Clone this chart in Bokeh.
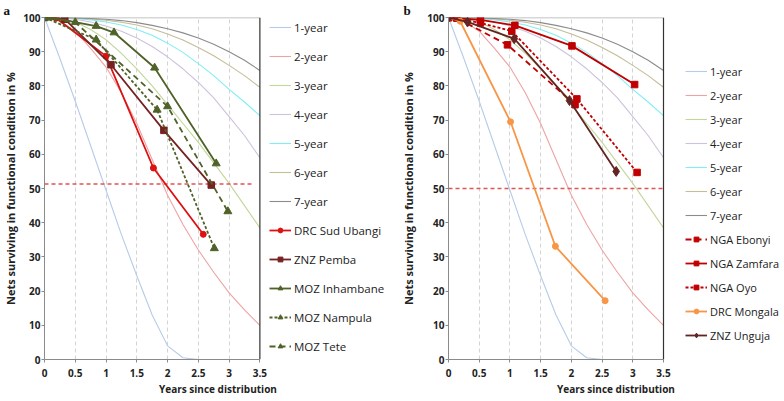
from bokeh.plotting import figure
from bokeh.models import (Legend, LegendItem, FixedTicker, CustomJSTickFormatter,
                          Span, Range1d)
from bokeh.layouts import row
from bokeh.embed import file_html
from bokeh.resources import INLINE

# ---------------- data ----------------
model_t = [0, 0.25, 0.5, 0.75, 1.0, 1.25, 1.5, 1.75, 2.0, 2.25, 2.5, 2.75, 3.0, 3.25, 3.5]
year1 = [100, 88, 75.5, 62.5, 49.5, 36.5, 24.5, 13, 4, 0.5, 0, 0, 0, 0, 0]
year2 = [100, 99, 96, 91, 85.5, 78, 69, 58.5, 48, 39.5, 32, 25.5, 19.5, 14.5, 10]
year3 = [100, 99.7, 98.7, 96.5, 93.5, 89.5, 85, 80, 74.5, 69, 63.5, 57.5, 51.5, 45, 38.5]
year4 = [100, 99.9, 99.5, 98.7, 97.5, 96, 94, 91.5, 88.5, 85, 81, 76.5, 71, 65.5, 59]
year5 = [100, 100, 99.7, 99.3, 98.7, 97.8, 96.5, 94.8, 92.5, 89.8, 86.5, 83, 79, 75.3, 71.3]
year6 = [100, 100, 99.8, 99.6, 99.2, 98.6, 97.8, 96.7, 95.2, 93.4, 91.2, 88.8, 86, 83, 79.6]
year7 = [100, 100, 99.9, 99.7, 99.5, 99.1, 98.5, 97.7, 96.7, 95.5, 94, 92.2, 90, 87.5, 84.5]
model_names = ["1-year", "2-year", "3-year", "4-year", "5-year", "6-year", "7-year"]

# panel a
drc_su_t = [0, 0.19, 1.0, 1.77, 2.58]
drc_su_v = [100, 99.8, 88.7, 56.0, 36.6]
pemba_t = [0, 0.33, 1.08, 1.94, 2.71]
pemba_v = [100, 99.5, 86.2, 67.0, 51.0]
inh_t = [0, 0.1, 0.84, 1.13, 1.79, 2.79]
inh_v = [100, 100, 97.5, 95.6, 85.3, 57.3]
nam_t = [0, 0.84, 1.83, 2.76]
nam_v = [100, 93.5, 73.0, 32.5]
tete_t = [0, 0.5, 2.0, 2.98]
tete_v = [100, 98.6, 74.0, 43.3]
ref_a_x = [0, 3.37]
ref_a_y = [51.3, 51.3]

# panel b
ebonyi_t = [0, 0.135, 0.96, 2.06]
ebonyi_v = [100, 99.8, 92.0, 74.5]
zamfara_t = [0, 0.52, 1.08, 2.01, 3.03]
zamfara_v = [100, 99.3, 97.7, 91.7, 80.4]
oyo_t = [0, 0.52, 1.03, 2.09, 3.07]
oyo_v = [100, 98.4, 96.0, 76.2, 54.7]
mongala_t = [0, 0.19, 1.01, 1.74, 2.55]
mongala_v = [100, 98.9, 69.5, 33.1, 17.2]
unguja_t = [0, 0.31, 1.07, 1.97, 2.73]
unguja_v = [100, 98.7, 93.8, 75.7, 55.0]
ref_b_x = [0, 3.5]
ref_b_y = [50, 50]

x_ticks = [0, 0.5, 1, 1.5, 2, 2.5, 3, 3.5]
y_ticks = [0, 10, 20, 30, 40, 50, 60, 70, 80, 90, 100]

model_colors = ["#b7cbe8", "#eea3a3", "#c3d69b", "#cdc2dc", "#80eef4", "#c4bd97", "#8c8c8c"]
FONT = "Open Sans"


def base_fig(width, height, bl, bt, bb, br, plot_px, panel_letter, letter_offset, ylab_standoff):
    frame_w = width - bl - br
    x_end = x_ticks[-1] * frame_w / plot_px  # extra room on the right for the legend
    p = figure(width=width, height=height, output_backend="svg", toolbar_location=None,
               x_range=Range1d(x_ticks[0], x_end), y_range=Range1d(y_ticks[0], y_ticks[-1]),
               min_border_left=bl, min_border_top=bt, min_border_bottom=bb, min_border_right=br)
    p.background_fill_color = "white"
    p.border_fill_color = "white"
    p.outline_line_color = None
    p.ygrid.visible = False
    p.xgrid.ticker = FixedTicker(ticks=x_ticks[1:-1])
    p.xgrid.grid_line_color = "#d4d4d4"
    p.xgrid.grid_line_dash = "4 3"
    p.xaxis.ticker = FixedTicker(ticks=x_ticks)
    p.xaxis.bounds = (x_ticks[0], x_ticks[-1])
    p.yaxis.ticker = FixedTicker(ticks=y_ticks)
    p.xaxis.formatter = CustomJSTickFormatter(code="return String(tick);")
    p.yaxis.formatter = CustomJSTickFormatter(code="return String(tick);")
    for ax in (p.xaxis[0], p.yaxis[0]):
        ax.axis_line_color = "#8a8a8a"
        ax.major_tick_line_color = "#8a8a8a"
        ax.major_tick_out = 3
        ax.major_tick_in = 0
        ax.minor_tick_out = 0
        ax.minor_tick_in = 0
        ax.major_label_text_font = FONT
        ax.major_label_text_font_size = "10px"
        ax.major_label_text_font_style = "bold"
        ax.major_label_text_color = "#222222"
        ax.axis_label_text_font = FONT
        ax.axis_label_text_font_style = "bold"
        ax.axis_label_text_color = "#222222"
    p.xaxis.major_label_standoff = 6
    p.xaxis.axis_label_standoff = 2
    p.xaxis.axis_label_text_font_size = "10px"
    p.yaxis.major_label_standoff = 1
    p.yaxis.axis_label_standoff = ylab_standoff
    p.yaxis.axis_label_text_font_size = "11px"
    p.xaxis.axis_label = "Years since distribution"
    p.yaxis.axis_label = "Nets surviving in functional condition in %"
    p.title.text = panel_letter
    p.title.align = "left"
    p.title.offset = letter_offset
    p.title.standoff = 0
    p.title.text_font = "Liberation Serif"
    p.title.text_font_style = "bold"
    p.title.text_font_size = "13px"
    p.title.text_color = "#111111"
    # frame edges of the plotting area (0..3.5, 0..100)
    p.line([x_ticks[0], x_ticks[-1]], [y_ticks[-1], y_ticks[-1]], line_color="#b0b0b0", line_width=1.5)
    p.add_layout(Span(location=x_ticks[-1], dimension="height", line_color="#333333", line_width=1.2))
    items = []
    for name, vals, col in zip(model_names, [year1, year2, year3, year4, year5, year6, year7], model_colors):
        r = p.line(model_t, vals, line_color=col, line_width=1.1)
        items.append(LegendItem(label=name, renderers=[r]))
    return p, items


def series(p, t, v, color, marker, size, dash="solid", width=1.8):
    rl = p.line(t, v, line_color=color, line_width=width, line_dash=dash)
    rm = p.scatter(t, v, marker=marker, size=size, fill_color=color, line_color=color)
    return [rl, rm]


def make_legend(items, loc, gh, lh, sp, fs):
    lg = Legend(items=items, location=loc, orientation="vertical",
                glyph_width=22, glyph_height=gh, label_height=lh, spacing=sp,
                label_standoff=3, padding=0, margin=0,
                border_line_color=None, background_fill_alpha=0,
                label_text_font=FONT, label_text_font_size=fs,
                label_text_color="#222222")
    return lg


# ---------------- panel a ----------------
pa, items_a = base_fig(395, 401, 43, 14, 37, 4, 216, "a", -41, 2)
pa.line(ref_a_x, ref_a_y, line_color="#e05555", line_width=1.6, line_dash="4 3")
items_a.append(LegendItem(label="DRC Sud Ubangi", renderers=series(pa, drc_su_t, drc_su_v, "#dd1111", "circle", 6)))
items_a.append(LegendItem(label="ZNZ Pemba", renderers=series(pa, pemba_t, pemba_v, "#772222", "square", 6.5)))
items_a.append(LegendItem(label="MOZ Inhambane", renderers=series(pa, inh_t, inh_v, "#4f6228", "triangle", 8)))
items_a.append(LegendItem(label="MOZ Nampula", renderers=series(pa, nam_t, nam_v, "#4f6228", "triangle", 8, dash="3 2")))
items_a.append(LegendItem(label="MOZ Tete", renderers=series(pa, tete_t, tete_v, "#4f6228", "triangle", 8, dash="6 4")))
pa.add_layout(make_legend(items_a, (225, 3), 12, 20, 9, "11.5px"), "center")

# ---------------- panel b ----------------
pb, items_b = base_fig(389, 401, 53, 9, 42, 1, 215, "b", -45, 8)
pb.line(ref_b_x, ref_b_y, line_color="#e05555", line_width=1.6, line_dash="4 3")
items_b.append(LegendItem(label="NGA Ebonyi", renderers=series(pb, ebonyi_t, ebonyi_v, "#c00000", "square", 6.5, dash="6 4")))
items_b.append(LegendItem(label="NGA Zamfara", renderers=series(pb, zamfara_t, zamfara_v, "#c00000", "square", 6.5)))
items_b.append(LegendItem(label="NGA Oyo", renderers=series(pb, oyo_t, oyo_v, "#c00000", "square", 6.5, dash="3 2")))
items_b.append(LegendItem(label="DRC Mongala", renderers=series(pb, mongala_t, mongala_v, "#f79646", "circle", 6)))
items_b.append(LegendItem(label="ZNZ Unguja", renderers=series(pb, unguja_t, unguja_v, "#632523", "diamond", 10)))
pb.add_layout(make_legend(items_b, (237, 15), 12, 18, 6, "11px"), "center")

layout = row(pa, pb)
open("out.html", "w").write(file_html(layout, INLINE))
